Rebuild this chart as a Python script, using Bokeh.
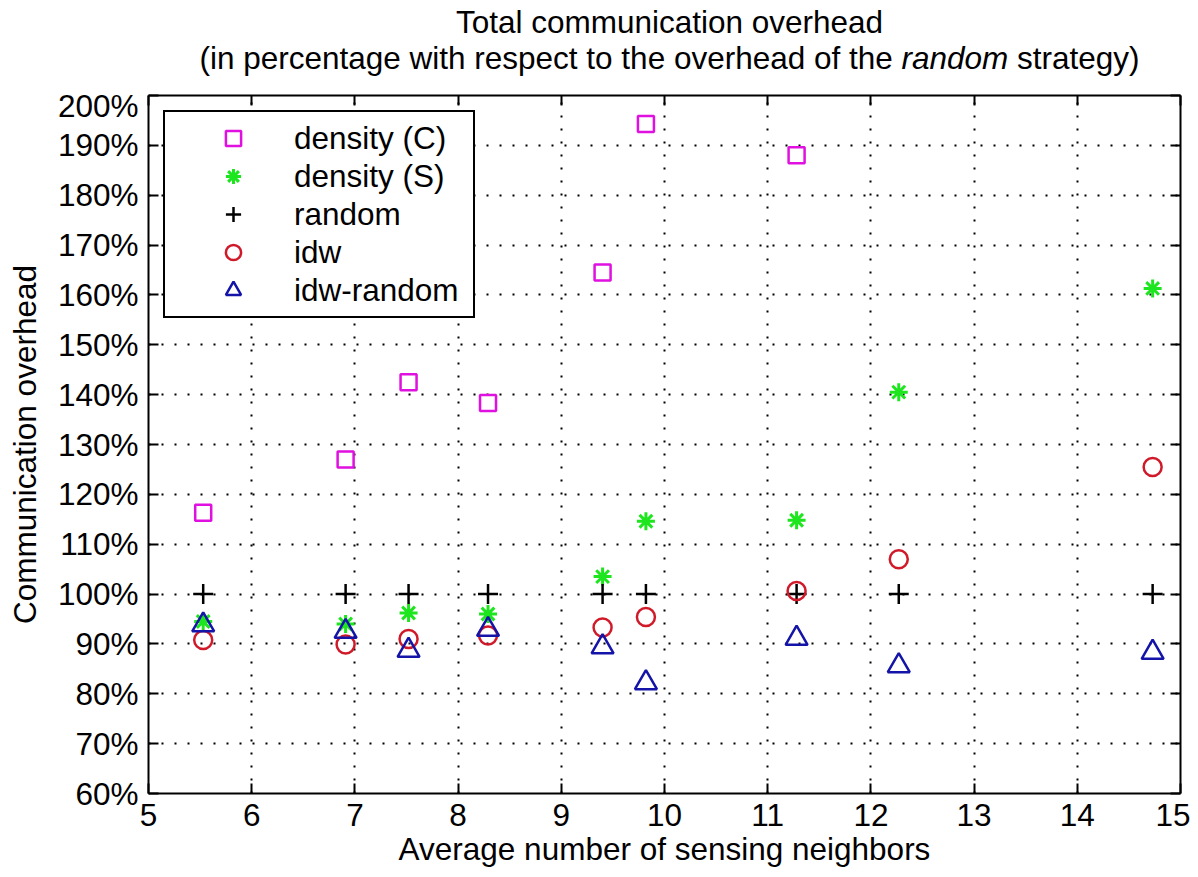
from bokeh.plotting import figure
from bokeh.layouts import column
from bokeh.models import Label, LinearAxis, FixedTicker, Legend, LegendItem
from bokeh.embed import file_html
from bokeh.resources import INLINE

nan = float("nan")

# ---------------- data ----------------
x_vals = [5.53, 6.91, 7.52, 8.29, 9.40, 9.82, 11.28, 12.27, 14.73]
density_c = [116.3, 127.0, 142.5, 138.3, 164.5, 194.3, 188.0, nan, nan]
density_s = [94.5, 94.0, 96.2, 96.0, 103.5, 114.6, 114.8, 140.5, 161.3]
random_s = [100.0, 100.0, 100.0, 100.0, 100.0, 100.0, 100.0, 100.0, 100.0]
idw = [90.8, 89.9, 91.0, 91.7, 93.3, 95.4, 100.6, 107.0, 125.5]
idw_random = [93.8, 92.5, 88.7, 92.9, 89.4, 82.2, 91.1, 85.6, 88.3]

x_ticks = [5, 6, 7, 8, 9, 10, 11, 12, 13, 14, 15]
y_ticks = [60, 70, 80, 90, 100, 110, 120, 130, 140, 150, 160, 170, 180, 190, 200]
y_tick_labels = ["60%", "70%", "80%", "90%", "100%", "110%", "120%", "130%",
                 "140%", "150%", "160%", "170%", "180%", "190%", "200%"]

series_names = ["density (C)", "density (S)", "random", "idw", "idw-random"]

title_1 = "Total communication overhead"
title_2a = "(in percentage with respect to the overhead of the"
title_2b = "random"
title_2c = "strategy)"
x_label = "Average number of sensing neighbors"
y_label = "Communication overhead"

# ---------------- style ----------------
FONT = "Liberation Sans"
FS = 31.5
TFS = 31.5
C_MAG = "#e010e0"
C_GRN = "#1ee61e"
C_BLK = "#000000"
C_RED = "#d01a2a"
C_BLU = "#1414a8"

WIDTH = 1190
TOP_H = 87
MAIN_H = 790
FRAME_L = 148
FRAME_R = 1180

# ---------------- title strip (frame is aligned with the main plot frame) ----
t = figure(width=WIDTH, height=TOP_H, x_range=(FRAME_L, FRAME_R),
           y_range=(0, TOP_H),
           output_backend="svg", toolbar_location=None, title=None,
           x_axis_type=None, y_axis_type=None, min_border=0,
           min_border_left=FRAME_L, min_border_right=WIDTH - FRAME_R,
           min_border_top=0, min_border_bottom=0, outline_line_color=None,
           background_fill_color="white", border_fill_color="white")
t.xgrid.visible = False
t.ygrid.visible = False

W = {' ': 278, '(': 333, ')': 333, 'a': 556, 'c': 500, 'd': 556, 'e': 556,
     'f': 278, 'g': 556, 'h': 556, 'i': 222, 'm': 833, 'n': 556, 'o': 556,
     'p': 556, 'r': 333, 's': 500, 't': 278, 'v': 500, 'w': 722, 'y': 500}


def tw(s):
    return sum(W.get(c, 556) for c in s) * TFS / 1000.0


cx = 669
BASE_FIX = 12
t.add_layout(Label(x=cx, y=TOP_H - 33 + BASE_FIX, text=title_1,
                   text_align="center", text_baseline="alphabetic",
                   text_font=FONT, text_font_size=f"{TFS}px",
                   text_color="black"))
sp = tw(" ")
total = tw(title_2a) + sp + tw(title_2b) + sp + tw(title_2c)
x0 = cx - total / 2
y2 = TOP_H - 69 + BASE_FIX
t.add_layout(Label(x=x0, y=y2, text=title_2a, text_align="left",
                   text_baseline="alphabetic", text_font=FONT,
                   text_font_size=f"{TFS}px", text_color="black"))
x1 = x0 + tw(title_2a) + sp
t.add_layout(Label(x=x1, y=y2, text=title_2b, text_align="left",
                   text_baseline="alphabetic", text_font=FONT,
                   text_font_size=f"{TFS}px", text_font_style="italic",
                   text_color="black"))
x2 = x1 + tw(title_2b) + sp
t.add_layout(Label(x=x2, y=y2, text=title_2c, text_align="left",
                   text_baseline="alphabetic", text_font=FONT,
                   text_font_size=f"{TFS}px", text_color="black"))

# ---------------- main plot ----------------
p = figure(width=WIDTH, height=MAIN_H, x_range=(5, 15), y_range=(60, 200),
           output_backend="svg", toolbar_location=None, title=None,
           min_border_left=FRAME_L, min_border_right=WIDTH - FRAME_R,
           min_border_top=8, min_border_bottom=84,
           background_fill_color="white",
           border_fill_color="white", outline_line_color=None)

bottom_ax = p.below[0]
left_ax = p.left[0]
bottom_ax.ticker = FixedTicker(ticks=x_ticks)
left_ax.ticker = FixedTicker(ticks=y_ticks)
left_ax.major_label_overrides = {v: s for v, s in zip(y_ticks, y_tick_labels)}
bottom_ax.axis_label = x_label
left_ax.axis_label = y_label

top_ax = LinearAxis(ticker=FixedTicker(ticks=x_ticks),
                    major_label_overrides={v: "" for v in x_ticks})
right_ax = LinearAxis(ticker=FixedTicker(ticks=y_ticks),
                      major_label_overrides={v: "" for v in y_ticks})
p.add_layout(top_ax, "above")
p.add_layout(right_ax, "right")

for ax in [bottom_ax, left_ax, top_ax, right_ax]:
    ax.major_tick_in = 10
    ax.major_tick_out = 0
    ax.minor_tick_line_color = None
    ax.axis_line_width = 2
    ax.axis_line_color = "black"
    ax.major_tick_line_width = 2
    ax.major_tick_line_color = "black"
    ax.major_label_text_font = FONT
    ax.major_label_text_font_size = f"{FS}px"
    ax.major_label_text_color = "black"
    ax.axis_label_text_font = FONT
    ax.axis_label_text_font_size = f"{FS}px"
    ax.axis_label_text_font_style = "normal"
    ax.axis_label_text_color = "black"

for ax in [top_ax, right_ax]:
    ax.major_label_standoff = 0
    ax.major_label_text_font_size = "1px"

bottom_ax.major_label_standoff = 10
bottom_ax.axis_label_standoff = 2
left_ax.major_label_standoff = 10
left_ax.axis_label_standoff = 12

for g in [p.xgrid[0], p.ygrid[0]]:
    g.grid_line_color = "black"
    g.grid_line_dash = "2 11"
    g.grid_line_width = 2
    g.grid_line_alpha = 1.0
p.xgrid[0].ticker = FixedTicker(ticks=x_ticks)
p.ygrid[0].ticker = FixedTicker(ticks=y_ticks)

LW = 2.5
r1 = p.scatter(x_vals, density_c, marker="square", size=16, line_color=C_MAG,
               fill_color=None, line_width=LW)
r2 = p.scatter(x_vals, density_s, marker="asterisk", size=18, line_color=C_GRN,
               line_width=3)
r3 = p.scatter(x_vals, random_s, marker="cross", size=20, line_color=C_BLK,
               line_width=LW)
r4 = p.scatter(x_vals, idw, marker="circle", size=18, line_color=C_RED,
               fill_color=None, line_width=LW)
r5 = p.scatter(x_vals, idw_random, marker="triangle", size=22, line_color=C_BLU,
               fill_color=None, line_width=LW)

legend = Legend(items=[LegendItem(label=n, renderers=[r])
                       for n, r in zip(series_names, [r1, r2, r3, r4, r5])],
                location="top_left", margin=15, padding=7, spacing=0,
                glyph_width=122, glyph_height=38, label_height=38,
                label_width=172, label_standoff=0,
                label_text_font=FONT, label_text_font_size=f"{FS}px",
                label_text_color="black",
                border_line_color="black", border_line_width=2,
                border_line_alpha=1.0,
                background_fill_color="white", background_fill_alpha=1.0)
p.add_layout(legend)

layout = column(t, p, spacing=0)
open("out.html", "w").write(file_html(layout, INLINE))
